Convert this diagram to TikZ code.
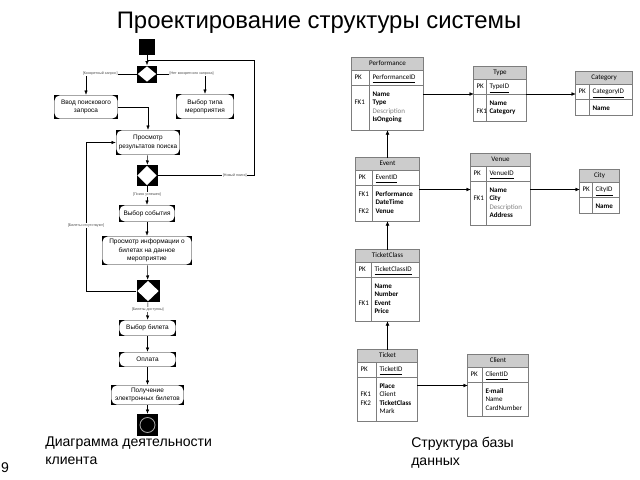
\documentclass[tikz,border=0pt]{standalone}
\usepackage{fontspec}
\setmainfont{Liberation Sans}
\newfontfamily\tabfont{Carlito}
\usetikzlibrary{arrows.meta,calc}

\newcommand{\px}{0.025cm}
\definecolor{hdrgray}{RGB}{204,204,204}
\definecolor{entgray}{RGB}{125,125,125}

\tikzset{
  flow/.style={-{Latex[length=3pt,width=2.4pt]}, line width=0.35pt},
  loopline/.style={line width=0.35pt},
  act/.style={fill=black, inner sep=0pt, align=center,
    font=\fontsize{4.6}{5.9}\selectfont,
    path picture={\fill[white, rounded corners=4pt]
      ([shift={(0.25pt,-0.25pt)}]path picture bounding box.north west) rectangle
      ([shift={(-0.25pt,0.25pt)}]path picture bounding box.south east);}},
  dec/.style={fill=black, inner sep=0pt,
    path picture={\fill[white]
      ([yshift=-0.6pt]path picture bounding box.north) --
      ([xshift=-0.6pt]path picture bounding box.east) --
      ([yshift=0.6pt]path picture bounding box.south) --
      ([xshift=0.6pt]path picture bounding box.west) -- cycle;}},
  startst/.style={fill=black, inner sep=0pt, minimum size=16*\px},
  endst/.style={fill=black, inner sep=0pt, minimum width=21*\px, minimum height=22*\px,
    path picture={\draw[white!65!black, line width=0.6pt]
      (path picture bounding box.center) circle (7.5*\px);}},
  guard/.style={fill=white, inner sep=0.4pt, text=black!70,
    font=\fontsize{2.6}{3}\selectfont},
  title/.style={font=\fontsize{17}{20}\selectfont},
  caption/.style={anchor=north west, align=left, inner sep=0pt,
    font=\fontsize{10}{12.8}\selectfont},
  entline/.style={draw=entgray, line width=0.35pt},
  enttext/.style={inner sep=0pt, text height=3.6pt, text depth=1.1pt,
    font=\tabfont\fontsize{5}{6}\selectfont},
  fk/.style={-{Latex[length=3pt,width=2.6pt]}, line width=0.35pt},
}

% #1 name, #2 centre, #3 width, #4 height, #5 key column,
% #6 title, #7 primary key, #8 rows key/attribute
\newcommand{\entity}[8]{%
  \node[inner sep=0pt, minimum width=#3*\px, minimum height=#4*\px] (#1) at (#2) {};
  \fill[hdrgray] (#1.north west) rectangle ($(#1.north east)+(0,13)$);
  \draw[entline] (#1.north west) rectangle (#1.south east);
  \draw[entline] ($(#1.north west)+(0,13)$) -- ($(#1.north east)+(0,13)$);
  \draw[entline] ($(#1.north west)+(0,28)$) -- ($(#1.north east)+(0,28)$);
  \draw[entline] ($(#1.north west)+(#5,13)$) -- ($(#1.south west)+(#5,0)$);
  \node[enttext] at ($(#1.north)+(0,6.5)$) {#6};
  \node[enttext, anchor=west] at ($(#1.north west)+(2.5,20.5)$) {PK};
  \node[enttext, anchor=west] at ($(#1.north west)+(#5+2.5,20.5)$) {\underline{#7}};
  \foreach \k/\a [count=\i] in {#8} {
    \node[enttext, anchor=west] at ($(#1.north west)+(2.5,{28.5+8.5*\i})$) {\k};
    \node[enttext, anchor=west] at ($(#1.north west)+(#5+2.5,{28.5+8.5*\i})$) {\a};
  }
}

\begin{document}
\begin{tikzpicture}[x=\px, y=-\px]
\useasboundingbox (0,0) rectangle (640,480);

\node[title] (ttl) at (319,23) {Проектирование структуры системы};

% activity diagram
\node[startst] (st) at (147,47) {};
\node[dec, minimum width=20*\px, minimum height=17*\px] (d1) at (147,74) {};
\node[act, minimum width=64*\px, minimum height=24*\px] (b1) at (86,107) {Ввод поискового\\запроса};
\node[act, minimum width=58*\px, minimum height=25*\px] (b2) at (205,106.5) {Выбор типа\\мероприятия};
\node[act, minimum width=64*\px, minimum height=25*\px] (b3) at (148,142.5) {Просмотр\\результатов поиска};
\node[dec, minimum width=21*\px, minimum height=21*\px] (d2) at (147,175.5) {};
\node[act, minimum width=56*\px, minimum height=17*\px] (b4) at (147,213.5) {Выбор события};
\node[act, minimum width=90*\px, minimum height=29*\px] (b5) at (147,250.5) {Просмотр информации о\\билетах на данное\\мероприятие};
\node[dec, minimum width=23*\px, minimum height=22*\px] (d3) at (148,291) {};
\node[act, minimum width=57*\px, minimum height=16*\px] (b6) at (147.5,328) {Выбор билета};
\node[act, minimum width=57*\px, minimum height=15*\px] (b7) at (147.5,359.5) {Оплата};
\node[act, minimum width=73*\px, minimum height=20*\px] (b8) at (147.5,395) {Получение\\электронных билетов};
\node[endst] (en) at (147.5,425) {};

\coordinate (rtop) at (254,60);
\coordinate (jtop) at (147,60);
\coordinate (lloop) at (86,291);

\draw[flow] (st) -- (d1);
\draw[flow] (d1.west) -| (b1.north) node[guard, pos=0.36] {[Конкретный запрос]};
\draw[flow] (d1.east) -| (b2.north) node[guard, pos=0.36] {[Нет конкретного запроса]};
\draw[flow] (b1.east) -| (b3.north);
\draw[flow] (b3) -- (d2);
\draw[flow] (d2) -- (b4) node[guard, pos=0.45] {[Поиск успешен]};
\draw[loopline] (d2.east) -| (rtop) node[guard, pos=0.4] {[Новый поиск]} -- (jtop);
\draw[flow] (d3.west) -- (lloop) |- (b3.west) node[guard, pos=0.22] {[Билеты отсутствуют]};
\draw[flow] (b4) -- (b5);
\draw[flow] (b5) -- (d3);
\draw[flow] (d3) -- (b6) node[guard, pos=0.4] {[Билеты доступны]};
\draw[flow] (b6) -- (b7);
\draw[flow] (b7) -- (b8);
\draw[flow] (b8) -- (en);

% database structure
\entity{perf}{387.5,94}{71}{72}{18}{Performance}{PerformanceID}
  {{}/\textbf{Name}, FK1/\textbf{Type}, {}/\textcolor{gray}{Description}, {}/\textbf{IsOngoing}}
\entity{type}{500,94}{52}{54}{13}{Type}{TypeID}
  {{}/\textbf{Name}, FK1/\textbf{Category}}
\entity{cat}{604,93.5}{56}{43}{14}{Category}{CategoryID}
  {{}/\textbf{Name}}
\entity{event}{387.5,189.5}{63}{63}{17}{Event}{EventID}
  {FK1/\textbf{Performance}, {}/\textbf{DateTime}, FK2/\textbf{Venue}}
\entity{venue}{500.5,189.5}{59}{71}{16}{Venue}{VenueID}
  {{}/\textbf{Name}, FK1/\textbf{City}, {}/\textcolor{gray}{Description}, {}/\textbf{Address}}
\entity{city}{599.5,191.5}{39}{43}{13}{City}{CityID}
  {{}/\textbf{Name}}
\entity{tclass}{387.5,285.5}{63}{71}{16}{TicketClass}{TicketClassID}
  {{}/\textbf{Name}, {}/\textbf{Number}, FK1/\textbf{Event}, {}/\textbf{Price}}
\entity{ticket}{387.5,385.5}{59}{71}{19}{Ticket}{TicketID}
  {{}/\textbf{Place}, FK1/Client, FK2/\textbf{TicketClass}, {}/Mark}
\entity{client}{498,385.5}{60}{61}{15}{Client}{ClientID}
  {{}/\textbf{E-mail}, {}/Name, {}/CardNumber}

\draw[fk] (perf.east) -- (perf.east -| type.west);
\draw[fk] (type.east) -- (type.east -| cat.west);
\draw[fk] (event.north) -- (perf.south);
\draw[fk] (event.east) -- (event.east -| venue.west);
\draw[fk] (venue.east) -- (venue.east -| city.west);
\draw[fk] (tclass.north) -- (event.south);
\draw[fk] (ticket.north) -- (tclass.south);
\draw[fk] (ticket.east) -- (ticket.east -| client.west);

% captions
\node[caption] (capl) at (45,437) {Диаграмма деятельности\\клиента};
\node[caption] (capr) at (411,437) {Структура базы\\данных};
\node[font=\fontsize{10}{12}\selectfont] (pgno) at (5,468) {9};
\end{tikzpicture}
\end{document}
